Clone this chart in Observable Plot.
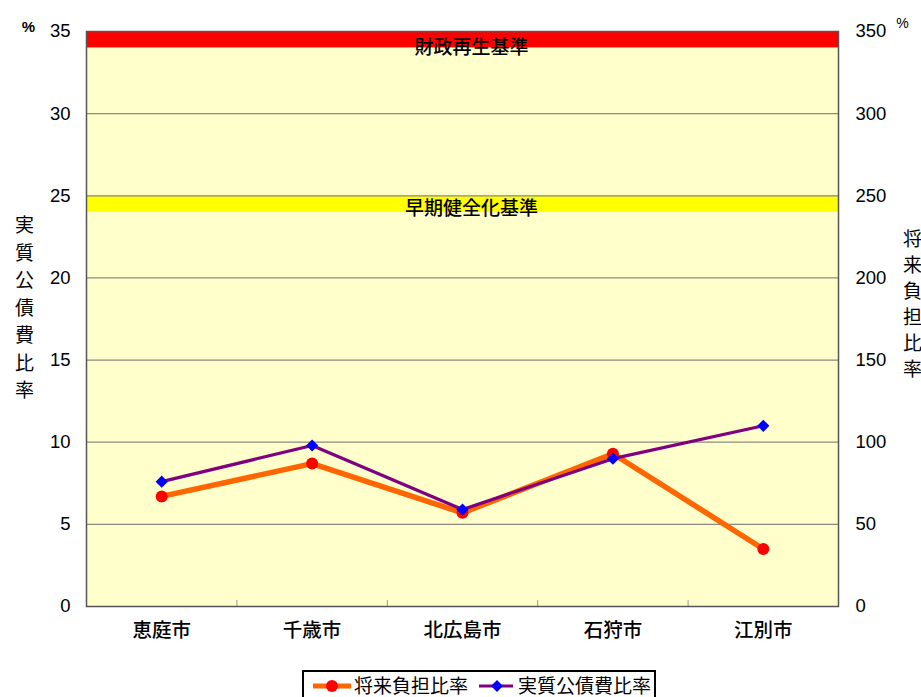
<!DOCTYPE html>
<html>
<head>
<meta charset="utf-8">
<script src="https://cdn.jsdelivr.net/npm/d3@7"></script>
<script src="https://cdn.jsdelivr.net/npm/@observablehq/plot@0.6"></script>
<style>
  html, body { margin: 0; padding: 0; background: white; }
  #wrap { position: relative; width: 921px; height: 697px; overflow: hidden; }
  #legend {
    position: absolute; left: 302px; top: 670px; width: 354px; height: 34px;
    border: 2px solid #000; background: #fff; box-sizing: border-box;
    font-family: "Noto Sans CJK JP", sans-serif; font-size: 19px; color: #000;
  }
  #legend svg { position: absolute; left: 0; top: 0; }
</style>
</head>
<body>
<div id="wrap"></div>
<script>
const cities = ["恵庭市", "千歳市", "北広島市", "石狩市", "江別市"];
const futureBurden = [67, 87, 57, 93, 35];        // 将来負担比率 (right axis, %)
const realDebt = [7.6, 9.8, 5.9, 9.0, 11.0];       // 実質公債費比率 (left axis, %)
const leftTicks = [0, 5, 10, 15, 20, 25, 30, 35];
const gridTicks = [5, 10, 15, 20, 25, 30];
const bandRed = [{lo: 34, hi: 35}];
const bandYellow = [{lo: 24, hi: 25}];
const bandLabels = [{y: 34.0, t: "財政再生基準"}, {y: 24.2, t: "早期健全化基準"}];
const seriesNames = ["将来負担比率", "実質公債費比率"];

const data = cities.map((c, i) => ({x: i + 0.5, city: c, future: futureBurden[i] / 10, debt: realDebt[i]}));
const font = "'Liberation Sans', 'Noto Sans CJK JP', sans-serif";
const cjk = "'Noto Sans CJK JP', sans-serif";

const chart = Plot.plot({
  width: 921, height: 697,
  marginTop: 31, marginBottom: 91, marginLeft: 86, marginRight: 83,
  x: {domain: [0, 5], label: null},
  y: {domain: [0, 35], label: null},
  style: {fontFamily: font, background: "white", color: "black"},
  marks: [
    Plot.frame({fill: "#FFFFCC", stroke: null}),
    Plot.rect(bandRed, {y1: "lo", y2: "hi", fill: "#FF0000"}),
    Plot.rect(bandYellow, {y1: "lo", y2: "hi", fill: "#FFFF00"}),
    Plot.gridY(gridTicks, {stroke: "#8a8a80", strokeOpacity: 1, strokeWidth: 1.2}),
    Plot.text(bandLabels, {y: "y", text: "t", dx: 9, fontSize: 19, fontWeight: 500, fill: "black", fontFamily: cjk}),
    Plot.tickX([1, 2, 3, 4], {stroke: "#999", insetTop: 569}),
    Plot.frame({stroke: "#555", strokeWidth: 1.5}),
    Plot.line(data, {x: "x", y: "future", stroke: "#FF6600", strokeWidth: 5.5}),
    Plot.dot(data, {x: "x", y: "future", r: 6, fill: "#FF0000", stroke: null}),
    Plot.line(data, {x: "x", y: "debt", stroke: "#800080", strokeWidth: 3.2}),
    Plot.dot(data, {x: "x", y: "debt", r: 5.5, symbol: "diamond2", fill: "#0000FF", stroke: null}),
    Plot.axisY(leftTicks, {anchor: "left", tickSize: 0, tickPadding: 16, fontSize: 18.5, label: null}),
    Plot.axisY(leftTicks, {anchor: "right", tickSize: 0, tickPadding: 17, fontSize: 18.5, tickFormat: d => d * 10, label: null}),
    Plot.axisX(data.map(d => d.x), {tickSize: 0, tickPadding: 17, fontSize: 19.5, fontWeight: 500, tickFormat: v => cities[Math.floor(v)], label: null, fontFamily: cjk}),
    Plot.text(["%"], {frameAnchor: "top-left", textAnchor: "middle", dx: -58, dy: -10, fontSize: 15, fontWeight: "bold", fill: "black"}),
    Plot.text(["%"], {frameAnchor: "top-right", textAnchor: "middle", dx: 64, dy: -13, fontSize: 14, fill: "black"}),
    Plot.text([seriesNames[1].split("").join("\n")], {frameAnchor: "left", textAnchor: "middle", dx: -62, dy: -13, fontSize: 19, lineHeight: 1.45, fill: "black", fontFamily: cjk}),
    Plot.text([seriesNames[0].split("").join("\n")], {frameAnchor: "right", textAnchor: "middle", dx: 74, dy: -16, fontSize: 19, lineHeight: 1.37, fill: "black", fontFamily: cjk})
  ]
});
const wrap = document.getElementById("wrap");
wrap.appendChild(chart);

// Legend
const legend = document.createElement("div");
legend.id = "legend";
const NS = "http://www.w3.org/2000/svg";
const lsvg = document.createElementNS(NS, "svg");
lsvg.setAttribute("width", 354); lsvg.setAttribute("height", 34);
function add(tag, attrs, txt) {
  const el = document.createElementNS(NS, tag);
  for (const k in attrs) el.setAttribute(k, attrs[k]);
  if (txt) el.textContent = txt;
  lsvg.appendChild(el);
  return el;
}
add("line", {x1: 9, x2: 47, y1: 14, y2: 14, stroke: "#FF6600", "stroke-width": 5});
add("circle", {cx: 28, cy: 14, r: 6, fill: "#FF0000"});
add("text", {x: 50, y: 21, "font-size": 19, "font-family": cjk}, seriesNames[0]);
add("line", {x1: 175, x2: 209, y1: 14, y2: 14, stroke: "#800080", "stroke-width": 3});
add("path", {d: "M193,8 L199,14 L193,20 L187,14 Z", fill: "#0000FF"});
add("text", {x: 214, y: 21, "font-size": 19, "font-family": cjk}, seriesNames[1]);
legend.appendChild(lsvg);
wrap.appendChild(legend);
</script>
</body>
</html>
